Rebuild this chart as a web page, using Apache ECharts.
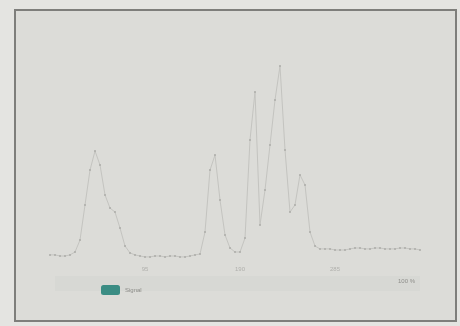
<!DOCTYPE html>
<html><head><meta charset="utf-8">
<script src="https://cdn.jsdelivr.net/npm/echarts@6/dist/echarts.min.js"></script>
<style>html,body{margin:0;padding:0;background:#e4e4e1}#c{width:460px;height:326px}</style>
</head><body><div id="c"></div>
<script>
var categories = [];
for (var k = 0; k < 75; k++) categories.push(String(k * 5));
var seriesName = 'Signal';
var values = [
  3.2, 3.2, 2.7, 2.7, 3.2, 4.5, 9.9, 25.7, 41.4, 50.0,
  43.7, 30.2, 24.3, 22.5, 15.3, 7.2, 4.1, 3.2, 2.7, 2.3,
  2.3, 2.7, 2.7, 2.3, 2.7, 2.7, 2.3, 2.3, 2.7, 3.2,
  3.6, 13.5, 41.4, 48.2, 27.9, 12.2, 6.3, 4.5, 4.5, 10.8,
  55.0, 76.6, 16.7, 32.4, 52.7, 73.0, 88.3, 50.5, 22.5, 25.7,
  39.2, 34.7, 13.5, 7.2, 5.9, 5.9, 5.9, 5.4, 5.4, 5.4,
  5.9, 6.3, 6.3, 5.9, 5.9, 6.3, 6.3, 5.9, 5.9, 5.9,
  6.3, 6.3, 5.9, 5.9, 5.4
];
var shownLabelIdx = [19, 38, 57];

var chart = echarts.init(document.getElementById('c'), null, {renderer: 'canvas'});
chart.setOption({
  backgroundColor: '#e4e4e1',
  animation: false,
  graphic: [
    {type: 'rect', z: -10, shape: {x: 15, y: 10, width: 441, height: 311},
     style: {fill: '#dcdcd8', stroke: '#7e7e7b', lineWidth: 2}},
    {type: 'rect', z: -9, shape: {x: 55, y: 276, width: 365, height: 15},
     style: {fill: '#d7d8d4', stroke: 'rgba(0,0,0,0)'}},
    {type: 'text', left: 398, top: 278,
     style: {text: '100 %', fill: '#8e8e8a', font: '6px sans-serif'}}
  ],
  grid: {left: 50, right: 40, top: 40, bottom: 64},
  legend: {
    left: 96, top: 280, icon: 'roundRect', itemWidth: 19, itemHeight: 10, itemGap: 4,
    textStyle: {color: '#8a8a86', fontSize: 6},
    data: [{name: seriesName, itemStyle: {color: '#3b8d84'}}]
  },
  xAxis: {
    type: 'category', data: categories, boundaryGap: false,
    axisLine: {show: false}, axisTick: {show: false}, splitLine: {show: false},
    axisLabel: {
      color: '#b0b0ac', fontSize: 6, margin: 4,
      interval: function (i) { return shownLabelIdx.indexOf(i) >= 0; }
    }
  },
  yAxis: {
    type: 'value', min: 0, max: 100, show: false, splitLine: {show: false}
  },
  series: [{
    name: seriesName, type: 'line', data: values,
    showSymbol: true, symbol: 'circle', symbolSize: 2,
    itemStyle: {color: '#acaca8'},
    lineStyle: {color: '#c4c4c0', width: 1}
  }]
});
</script></body></html>
